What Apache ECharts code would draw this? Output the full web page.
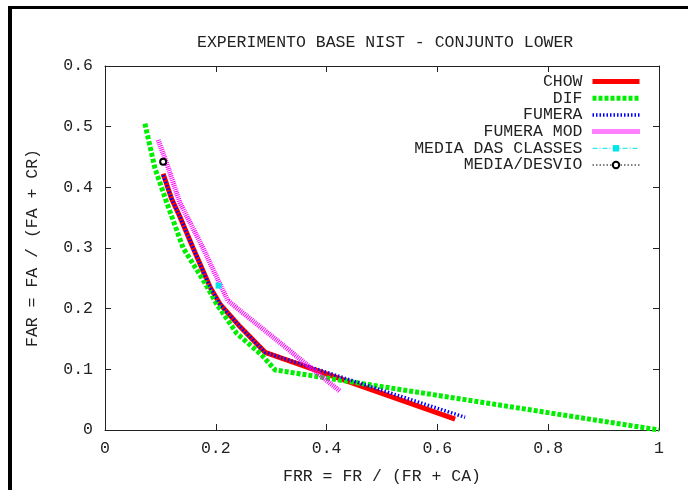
<!DOCTYPE html>
<html>
<head>
<meta charset="utf-8">
<script src="https://cdn.jsdelivr.net/npm/echarts@6/dist/echarts.min.js"></script>
<style>html,body{margin:0;padding:0;background:#fff;}#c{width:688px;height:490px;}</style>
</head>
<body>
<div id="c"></div>
<script>
const titleText = 'EXPERIMENTO BASE NIST - CONJUNTO LOWER';
const xName = 'FRR = FR / (FR + CA)';
const yName = 'FAR = FA / (FA + CR)';
const seriesNames = ['CHOW', 'DIF', 'FUMERA', 'FUMERA MOD', 'MEDIA DAS CLASSES', 'MEDIA/DESVIO'];
const xTicks = [0, 0.2, 0.4, 0.6, 0.8, 1];
const yTicks = [0, 0.1, 0.2, 0.3, 0.4, 0.5, 0.6];

const chow = [[0.105,0.4225],[0.12,0.3815],[0.135,0.352],[0.159,0.300],[0.19,0.235],[0.208,0.207],[0.244,0.170],[0.289,0.128],[0.632,0.018]];
const dif = [[0.072,0.505],[0.09,0.432],[0.111,0.376],[0.141,0.300],[0.18,0.243],[0.2016,0.2076],[0.238,0.159],[0.283,0.1235],[0.307,0.099],[1.0,0.0]];
const fumera = [[0.105,0.42],[0.12,0.3815],[0.135,0.352],[0.159,0.300],[0.19,0.235],[0.208,0.207],[0.244,0.170],[0.289,0.128],[0.65,0.021]];
const fumeraMod = [[0.096,0.478],[0.115,0.43],[0.135,0.375],[0.177,0.300],[0.205,0.245],[0.222,0.213],[0.424,0.064]];
const mediaClasses = [[0.205,0.238]];
const mediaDesvio = [[0.105,0.442]];

const FONT = 'Liberation Mono';
const TXT = '#222';

const chart = echarts.init(document.getElementById('c'), null, {renderer: 'canvas'});

function xAxisCfg(pos, labels) {
  return {
    type: 'value', position: pos, min: xTicks[0], max: xTicks[xTicks.length-1], interval: 0.2,
    axisLine: {show: true, onZero: false, lineStyle: {color: '#222', width: 1}},
    axisTick: {show: true, inside: true, length: 6, lineStyle: {color: '#222'}},
    axisLabel: {show: labels, margin: 10, fontFamily: FONT, fontSize: 16.5, color: TXT},
    splitLine: {show: false},
    name: labels ? xName : '', nameLocation: 'middle', nameGap: 38,
    nameTextStyle: {fontFamily: FONT, fontSize: 16.5, color: TXT}
  };
}
function yAxisCfg(pos, labels) {
  return {
    type: 'value', position: pos, min: yTicks[0], max: yTicks[yTicks.length-1], interval: 0.1,
    axisLine: {show: true, onZero: false, lineStyle: {color: '#222', width: 1}},
    axisTick: {show: true, inside: true, length: 6, lineStyle: {color: '#222'}},
    axisLabel: {show: labels, margin: 12, fontFamily: FONT, fontSize: 16.5, color: TXT},
    splitLine: {show: false},
    name: labels ? yName : '', nameLocation: 'middle', nameGap: 64,
    nameTextStyle: {fontFamily: FONT, fontSize: 16.5, color: TXT}
  };
}

function lineSeries(name, data, color, width, type, extra) {
  return Object.assign({
    name: name, type: 'line', data: data, symbol: 'none', xAxisIndex: 0, yAxisIndex: 0,
    lineStyle: {color: color, width: width, type: type, cap: 'butt'},
    itemStyle: {color: color},
    animation: false
  }, extra || {});
}

const legendData = seriesNames.map((n, i) => i < 4 ? {name: n, itemStyle: {opacity: 0}} : {name: n});

chart.setOption({
  backgroundColor: '#fff',
  animation: false,
  title: {
    text: titleText, left: 192, top: 29,
    textStyle: {fontFamily: FONT, fontSize: 16.5, fontWeight: 'normal', color: TXT}
  },
  grid: {left: 105, right: 29, top: 66, bottom: 56},
  xAxis: [xAxisCfg('bottom', true), xAxisCfg('top', false)],
  yAxis: [yAxisCfg('left', true), yAxisCfg('right', false)],
  legend: {
    orient: 'vertical', right: 41, top: 68, align: 'right',
    itemWidth: 47, itemHeight: 8, itemGap: -0.3,
    lineStyle: {width: 'inherit', type: 'inherit'},
    textStyle: {fontFamily: FONT, fontSize: 16.5, color: TXT, lineHeight: 16.5, padding: [0, 5, 0, 0]},
    data: legendData
  },
  graphic: [
    {type: 'line', shape: {x1: 10, y1: 6, x2: 10, y2: 495}, style: {stroke: '#000', lineWidth: 4}},
    {type: 'line', shape: {x1: 8, y1: 7.5, x2: 700, y2: 7.5}, style: {stroke: '#000', lineWidth: 3}}
  ],
  series: [
    lineSeries(seriesNames[0], chow, '#ff0000', 5, 'solid'),
    lineSeries(seriesNames[1], dif, '#00ee00', 5, [4, 2]),
    lineSeries(seriesNames[2], fumera, '#0000ff', 3.5, [1.5, 2]),
    lineSeries(seriesNames[3], fumeraMod, '#ff00ff', 5, [1, 1]),
    lineSeries(seriesNames[4], mediaClasses, '#00e5e5', 1, [5, 2, 1, 2], {
      symbol: 'rect', symbolSize: 6, showSymbol: true, itemStyle: {color: '#00e5e5'}
    }),
    lineSeries(seriesNames[5], mediaDesvio, '#000000', 1, [1.5, 2], {
      symbol: 'emptyCircle', symbolSize: 6, showSymbol: true,
      itemStyle: {color: '#000', borderColor: '#000', borderWidth: 1}
    })
  ]
});
</script>
</body>
</html>
